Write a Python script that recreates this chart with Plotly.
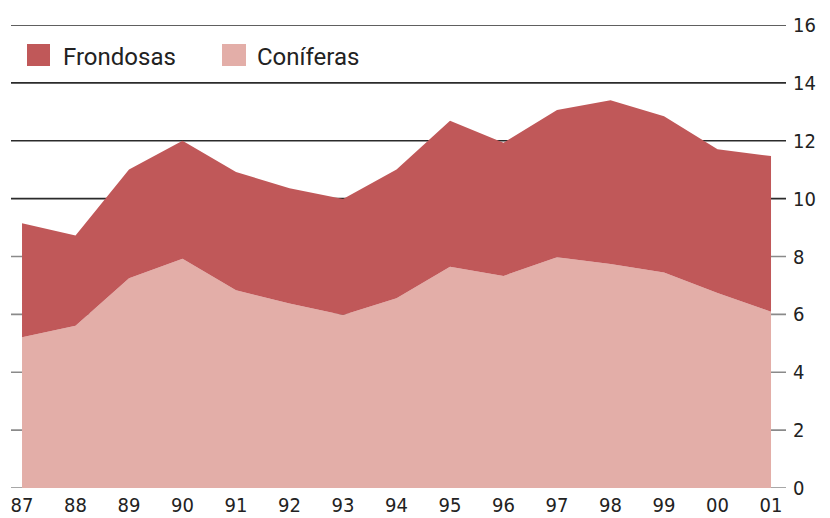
import plotly.graph_objects as go

years = ["87", "88", "89", "90", "91", "92", "93", "94", "95", "96", "97", "98", "99", "00", "01"]
coniferas = [5.21, 5.61, 7.25, 7.92, 6.83, 6.38, 5.98, 6.56, 7.65, 7.33, 7.97, 7.74, 7.45, 6.74, 6.09]
frondosas = [3.94, 3.12, 3.76, 4.08, 4.09, 3.98, 4.01, 4.45, 5.04, 4.60, 5.09, 5.66, 5.40, 4.97, 5.38]
y_ticks = [0, 2, 4, 6, 8, 10, 12, 14, 16]

C_FRON = "#C05859"
C_CONI = "#E3AEA8"

# page body has an 8px margin; figure is placed at (8, 8) on screen
OFF = 8
W, H = 820, 510
ML, MR, MT, MB = 3, 42, 17, 30
PW, PH = W - ML - MR, H - MT - MB

def px(x):  # screen pixel -> paper
    return (x - OFF - ML) / PW

def py(y):
    return (H - MB - (y - OFF)) / PH

xi = list(range(len(years)))

fig = go.Figure()
fig.add_trace(go.Scatter(x=xi, y=coniferas, stackgroup="a", mode="none",
                         fillcolor=C_CONI, name="Coníferas", showlegend=False))
fig.add_trace(go.Scatter(x=xi, y=frondosas, stackgroup="a", mode="none",
                         fillcolor=C_FRON, name="Frondosas", showlegend=False))

shapes = []
for v in y_ticks:
    shapes.append(dict(type="line", xref="paper", yref="y", x0=0, x1=1, y0=v, y1=v,
                       line=dict(color="#2b2b2b" if v >= 10 else "#8a8a8a", width=1.6),
                       layer="below"))

# legend
legend_items = [("Frondosas", C_FRON, 27, 50, 61), ("Coníferas", C_CONI, 222, 246, 255)]
annotations = []
for name, col, x0, x1, tx in legend_items:
    shapes.append(dict(type="rect", xref="paper", yref="paper",
                       x0=px(x0), x1=px(x1), y0=py(66), y1=py(44),
                       fillcolor=col, line=dict(width=0), layer="above"))
    annotations.append(dict(text=name, xref="paper", yref="paper", x=px(tx), y=py(57),
                            xanchor="left", yanchor="middle", showarrow=False,
                            font=dict(family="Roboto, Arial, sans-serif", size=24, color="#222222")))

tick_font = dict(family="Liberation Sans Narrow, DejaVu Sans Condensed, Arial Narrow, sans-serif",
                 size=20, color="#222222")

fig.update_layout(
    width=W, height=H,
    margin=dict(l=ML, r=MR, t=MT, b=MB, autoexpand=False),
    paper_bgcolor="white", plot_bgcolor="white",
    showlegend=False,
    shapes=shapes,
    annotations=annotations,
    xaxis=dict(range=[-0.206, 14.28], tickmode="array", tickvals=xi, ticktext=years,
               showgrid=False, zeroline=False, showline=False, ticks="",
               automargin=False, ticklabelstandoff=3, tickfont=tick_font),
    yaxis=dict(range=[0, 16], side="right", tickmode="array", tickvals=y_ticks,
               showgrid=False, zeroline=False, showline=False, ticks="",
               automargin=False, ticklabelstandoff=6, tickfont=tick_font),
)

fig.write_html("out.html")
